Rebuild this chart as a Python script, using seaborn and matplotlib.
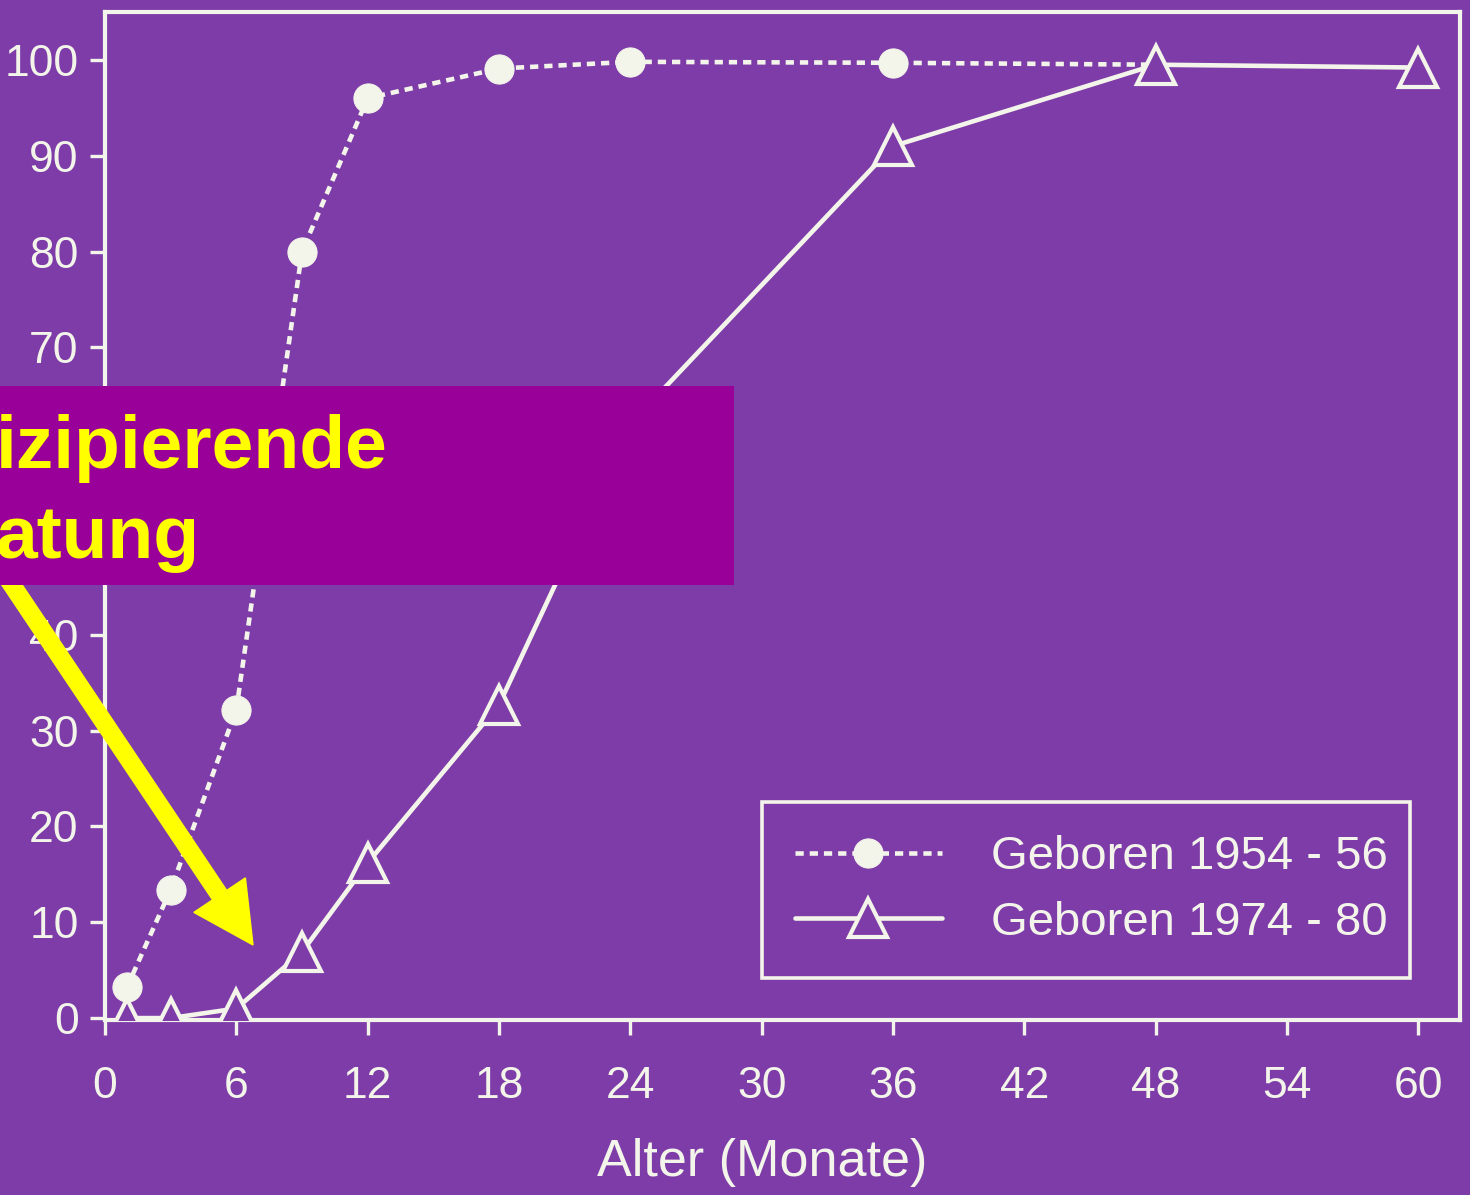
import numpy as np
import pandas as pd
import matplotlib
matplotlib.use("Agg")
import matplotlib.pyplot as plt
import seaborn as sns
from matplotlib import font_manager as fm
from matplotlib.patches import Rectangle, FancyArrow
from matplotlib.transforms import IdentityTransform

# ---------------- data ----------------
months_1954 = [1, 3, 6, 9, 12, 18, 24, 36, 48]
pct_1954 = [3.2, 13.4, 32.2, 80.0, 96.0, 99.1, 99.8, 99.7, 99.5]
months_1974 = [1, 3, 6, 9, 12, 18, 24, 36, 48, 60]
pct_1974 = [0.0, 0.0, 1.0, 6.9, 16.2, 32.7, 62.0, 91.0, 99.5, 99.2]
label_1954 = "Geboren 1954 - 56"
label_1974 = "Geboren 1974 - 80"
x_ticks = list(range(0, 61, 6))
y_ticks = list(range(0, 101, 10))
x_label = "Alter (Monate)"
overlay_lines = ["izipierende", "atung"]

# ---------------- style ----------------
BG = "#7E3CA8"
FG = "#F3F5EA"
BOX = "#990099"
YEL = "#FFFF00"

sns.set_theme(style="ticks")
try:
    fm.findfont("Liberation Sans Narrow", fallback_to_default=False)
    NARROW = True
except Exception:
    NARROW = False
narrow_fam = ["Liberation Sans Narrow", "Liberation Sans", "DejaVu Sans"] if NARROW else ["Liberation Sans", "DejaVu Sans"]
tick_size = 35 if NARROW else 32
leg_size = 38 if NARROW else 34
plt.rcParams["font.family"] = ["Liberation Sans", "DejaVu Sans"]

W, H = 1470, 1195
fig = plt.figure(figsize=(W / 100, H / 100), dpi=100, facecolor=BG)
ax = fig.add_axes([105 / W, 1 - 1020 / H, 1355 / W, 1008 / H])
ax.set_facecolor(BG)

df54 = pd.DataFrame({"Monate": months_1954, "Prozent": pct_1954})
df74 = pd.DataFrame({"Monate": months_1974, "Prozent": pct_1974})

sns.lineplot(data=df54, x="Monate", y="Prozent", ax=ax, color=FG, lw=3.3,
             linestyle=(0, (1.8, 1.3)), marker="o", markersize=21,
             markerfacecolor=FG, markeredgecolor=FG,
             markevery=list(range(len(months_1954) - 1)),
             label=label_1954, zorder=3)
sns.lineplot(data=df74, x="Monate", y="Prozent", ax=ax, color=FG, lw=3.3,
             marker="^", markersize=27, markerfacecolor=BG,
             markeredgecolor=FG, markeredgewidth=3,
             label=label_1974, zorder=4)

ax.set_xlim(0, 61.9)
ax.set_ylim(-0.2, 105)
ax.set_xticks(x_ticks)
ax.set_yticks(y_ticks)
ax.set_xticklabels([str(v) for v in x_ticks], family=narrow_fam, fontsize=tick_size, color=FG)
ax.set_yticklabels([str(v) for v in y_ticks], family=narrow_fam, fontsize=tick_size, color=FG)
ax.tick_params(axis="both", direction="out", length=11, width=2.4, color=FG)
ax.tick_params(axis="x", pad=22)
ax.tick_params(axis="y", pad=8)
for s in ax.spines.values():
    s.set_visible(True)
    s.set_color(FG)
    s.set_linewidth(3)
ax.set_ylabel("")
ax.set_xlabel(x_label, fontsize=37.5, color=FG)
ax.xaxis.set_label_coords((762 - 105) / 1355, -(1138 - 1020) / 1008)
ax.grid(False)

leg = ax.legend(loc="lower left", bbox_to_anchor=(0.485, 0.042, 0.478, 0.2),
                mode="expand", borderaxespad=0, frameon=True, fancybox=False,
                edgecolor=FG, facecolor=BG, framealpha=1,
                prop={"family": narrow_fam, "size": leg_size},
                handlelength=3.1, handletextpad=1.04, borderpad=0.7,
                labelspacing=0.45, numpoints=1)
leg.get_frame().set_linewidth(2.6)
for t in leg.get_texts():
    t.set_color(FG)

# ---------------- overlay (slide annotation) ----------------
arrow = FancyArrow(2, H - 570, 251, -(945 - 570), width=17, head_width=62,
                   head_length=60, length_includes_head=True,
                   color=YEL, transform=IdentityTransform(), zorder=5)
fig.patches.append(arrow)
fig.patches.append(Rectangle((0, 1 - 585 / H), 734 / W, 199 / H,
                             transform=fig.transFigure, facecolor=BOX,
                             edgecolor="none", zorder=6))
fig.text(-4 / W, 1 - 468 / H, overlay_lines[0], color=YEL, fontsize=54,
         fontweight="bold", va="baseline", ha="left", zorder=7)
fig.text(-4 / W, 1 - 558 / H, overlay_lines[1], color=YEL, fontsize=54,
         fontweight="bold", va="baseline", ha="left", zorder=7)

fig.savefig("out.png", dpi=100, facecolor=BG)
